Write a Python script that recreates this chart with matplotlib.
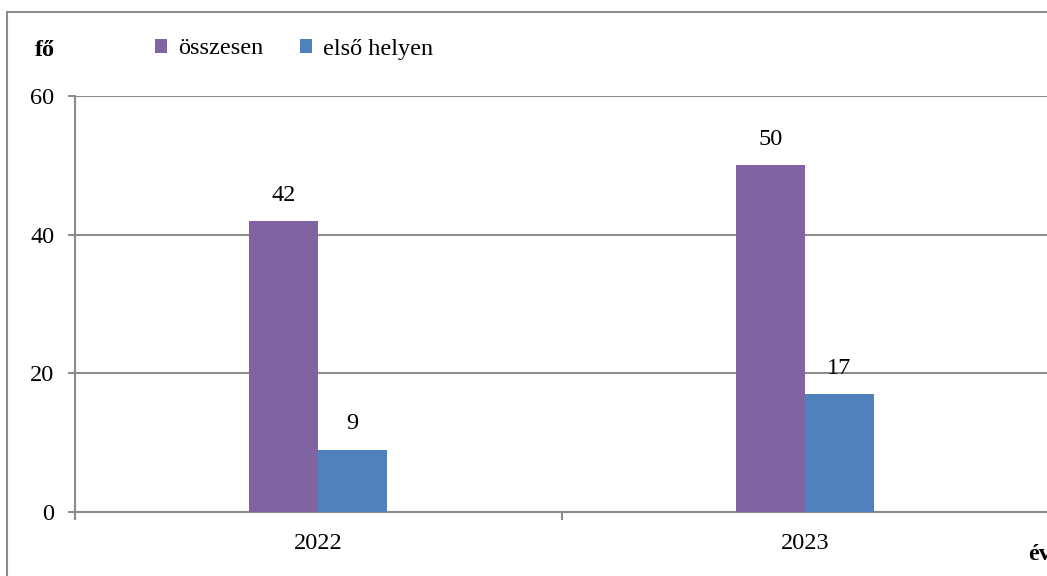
from matplotlib import pyplot as plt
from matplotlib.patches import Rectangle
import numpy as np

years = ["2022", "2023"]
osszesen = [42, 50]
elso_helyen = [9, 17]
series_names = ["összesen", "első helyen"]

plt.rcParams["font.family"] = ["Liberation Serif", "DejaVu Serif"]
fs = 17.5

fig = plt.figure(figsize=(10.47, 5.76), dpi=100)
ax = fig.add_axes([75 / 1047, 1 - 512 / 576, 973 / 1047, 416 / 576])

x = np.arange(len(years))
w = 0.142
purple = "#8064A2"
blue = "#4F81BD"
grid = "#8c8c8c"

b1 = ax.bar(x - w / 2, osszesen, w, color=purple, label=series_names[0], zorder=3)
b2 = ax.bar(x + w / 2, elso_helyen, w, color=blue, label=series_names[1], zorder=3)

for bars, vals in ((b1, osszesen), (b2, elso_helyen)):
    for rect, v in zip(bars, vals):
        ax.annotate(str(v), (rect.get_x() + rect.get_width() / 2, v),
                    xytext=(0, 11), textcoords="offset points",
                    ha="center", va="bottom", fontsize=fs)

ax.set_xlim(-0.5, 1.5)
ax.set_ylim(0, 60)
ax.set_yticks([0, 20, 40, 60])
ax.yaxis.grid(True, color=grid, linewidth=1.5, zorder=0)

# category labels between the ticks, ticks at category borders
ax.set_xticks([-0.5, 0.5, 1.5])
ax.set_xticklabels([])
ax.set_xticks(x, minor=True)
ax.set_xticklabels(years, minor=True, fontsize=fs)
ax.tick_params(axis="x", which="minor", length=0, pad=15)
ax.tick_params(axis="x", which="major", length=6, width=1.5, color=grid)
ax.tick_params(axis="y", length=5, width=1.5, color=grid, labelsize=fs, pad=10)

for s in ["top", "right"]:
    ax.spines[s].set_visible(False)
for s in ["left", "bottom"]:
    ax.spines[s].set_color(grid)
    ax.spines[s].set_linewidth(1.5)

fig.text(45 / 1047, 1 - 50 / 576, "fő", fontsize=fs, fontweight="bold",
         ha="center", va="center")
fig.text(1040 / 1047, 1 - 555 / 576, "év", fontsize=fs, fontweight="bold",
         ha="center", va="center")

fig.legend(handles=[b1, b2], loc="center left",
           bbox_to_anchor=(145 / 1047, 1 - 49 / 576), ncol=2, frameon=False,
           fontsize=fs, handlelength=0.5, handleheight=0.5,
           handletextpad=0.45, columnspacing=1.5, borderaxespad=0)

fig.patches.append(Rectangle((7 / 1047, -0.1), 1.2, 1 - 12 / 576 + 0.1,
                             transform=fig.transFigure, fill=False,
                             edgecolor=grid, linewidth=1.5))

fig.savefig("out.png", dpi=100)
